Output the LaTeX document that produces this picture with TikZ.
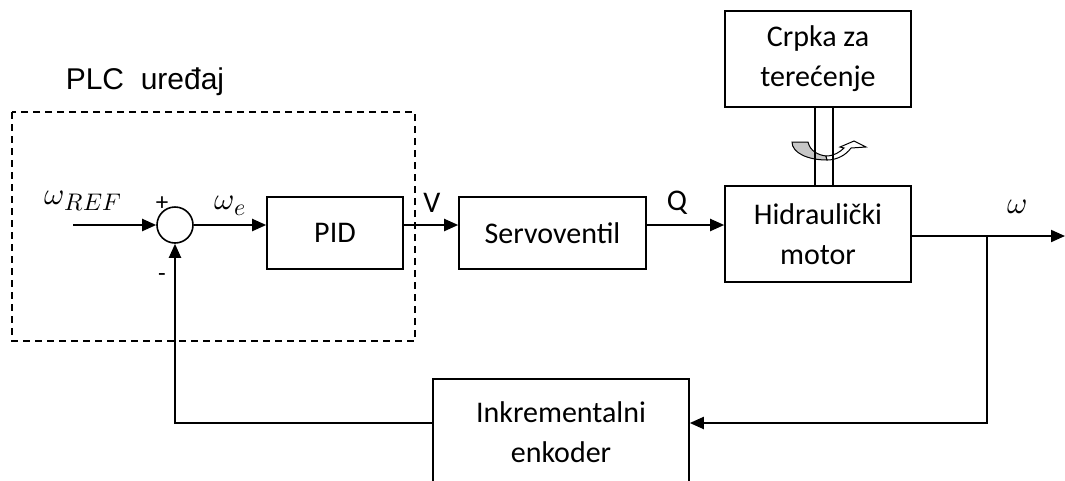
\documentclass[tikz,border=0pt]{standalone}
\usepackage{fontspec}
\usepackage{unicode-math}
\setmathfont{Latin Modern Math}
\setmainfont{Carlito}
\newfontfamily\arialf{Liberation Sans}
\usetikzlibrary{arrows.meta}
\newcommand{\mysub}[1]{\raisebox{-6pt}{\fontsize{24}{24}\selectfont$\symit{#1}$}}
\begin{document}
\begin{tikzpicture}[x=1pt,y=-1pt,
  box/.style={draw, line width=1.6pt, inner sep=0pt, align=center, font=\fontsize{30}{40}\selectfont},
  conn/.style={line width=2pt, -{Triangle[length=14pt,width=12pt]}},
  thinl/.style={line width=1.3pt},
  lbl/.style={font=\fontsize{30}{32}\selectfont, inner sep=0pt},
  mlbl/.style={font=\fontsize{31}{33}\selectfont, inner sep=0pt},
  sign/.style={font=\fontsize{25}{26}\selectfont, inner sep=0pt},
]
\useasboundingbox (0,0) rectangle (1065,480);
\clip (0,0) rectangle (1065,480);

% PLC dashed region
\draw[line width=1.5pt, dash pattern=on 7pt off 5pt] (12,112) rectangle (415,341);
\node[font=\arialf\fontsize{30}{32}\selectfont, inner sep=0pt] (plc) at (145,82) {PLC\ \ uređaj};

% blocks
\node[draw, circle, line width=1.6pt, minimum size=36pt, inner sep=0pt] (sum) at (175,225) {};
\node[box, minimum width=136pt, minimum height=72pt] (pid) at (335,233) {PID};
\node[box, minimum width=187pt, minimum height=72pt] (servo) at (552.5,233) {Servoventil};
\node[box, minimum width=186pt, minimum height=96pt] (motor) at (818,234) {Hidraulički\\motor};
\node[box, minimum width=186pt, minimum height=96pt] (pump) at (818,59) {Crpka za\\terećenje};
\node[box, minimum width=256pt, minimum height=106pt] (enc) at (561,432) {Inkrementalni\\enkoder};

% labels
\node[mlbl] (lref) at (83,201) {$\omega$\mysub{REF}};
\node[sign] (lplus) at (162,204) {+};
\node[sign] (lminus) at (162,278) {-};
\node[mlbl] (le) at (230,206) {$\omega$\mysub{e}};
\node[lbl] (lv) at (432,203) {V};
\node[lbl] (lq) at (677,203) {Q};
\node[mlbl] (lw) at (1017,207) {$\omega$};

% connectors
\coordinate (in) at (73,225);
\draw[conn] (in) -- (sum.west);
\draw[conn] (sum.east) -- (pid.west |- sum.east);
\draw[conn] (pid.east |- sum.east) -- (servo.west |- sum.east);
\draw[conn] (servo.east |- sum.east) -- (motor.west |- sum.east);
\coordinate (br) at (987,236);
\coordinate (out) at (1065,236);
\draw[thinl] (motor.east |- br) -- (br);
\draw[conn] (br) -- (out);
\coordinate (fb1) at (987,423);
\draw[conn] (br) -- (fb1) -- (enc.east |- fb1);
\coordinate (fb2) at (175,423);
\draw[conn] (enc.west |- fb1) -- (fb2) -- (sum.south);

% rotation symbol
\draw[line width=1pt, fill=black!22] (792,142) -- (808,142)
  .. controls (810,151) and (818,155) .. (826,156)
  -- (827,160) .. controls (808,160) and (792,153) .. (792,142) -- cycle;
\draw[line width=1pt, fill=white] (826,156)
  .. controls (834,156) and (840,152) .. (844,148)
  -- (840,147) -- (854,141) -- (866,147) -- (851,148)
  .. controls (846,155) and (837,160) .. (827,160) -- cycle;

% shaft
\draw[line width=1.5pt] ([xshift=-3pt]pump.south) -- ([xshift=-3pt]motor.north);
\draw[line width=1.5pt] ([xshift=15pt]pump.south) -- ([xshift=15pt]motor.north);
\end{tikzpicture}
\end{document}
